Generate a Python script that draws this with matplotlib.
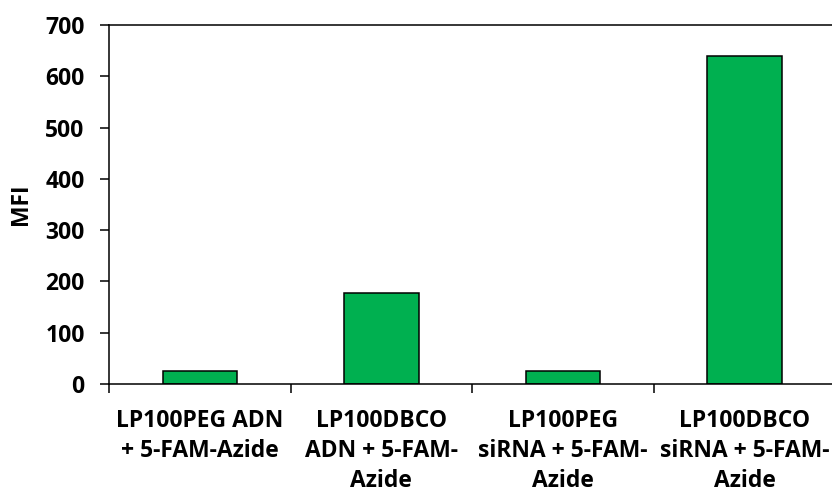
import matplotlib
matplotlib.use("Agg")
from matplotlib import pyplot as plt

# MFI per sample
samples = ["LP100PEG ADN\n+ 5-FAM-Azide",
           "LP100DBCO\nADN + 5-FAM-\nAzide",
           "LP100PEG\nsiRNA + 5-FAM-\nAzide",
           "LP100DBCO\nsiRNA + 5-FAM-\nAzide"]
mfi = [26, 177, 25, 640]
yticks = [0, 100, 200, 300, 400, 500, 600, 700]

plt.rcParams['font.family'] = ['Open Sans', 'DejaVu Sans']
plt.rcParams['font.weight'] = 'bold'
FS = 16.5

fig = plt.figure(figsize=(8.32, 4.92), dpi=100)
ax = fig.add_axes([0.131, 0.2195, 0.873, 0.7295])

pos = list(range(len(samples)))
ax.bar(pos, mfi, width=0.41, color="#00B050", edgecolor="black", linewidth=1.1)

ax.set_xlim(-0.5, 3.5)
ax.set_ylim(0, 700)
ax.set_yticks(yticks)
ax.set_xticks([p - 0.5 for p in pos] + [3.5], minor=False)
ax.set_xticklabels([""] * 5)
ax.set_xticks(pos, minor=True)
ax.set_xticklabels(samples, minor=True, fontsize=FS, fontweight="bold",
                   linespacing=1.32)
ax.tick_params(axis="x", which="minor", length=0, pad=18)
ax.tick_params(axis="x", which="major", length=6.5, width=1.1, direction="out")
ax.tick_params(axis="y", length=6.5, width=1.1, direction="out", pad=11,
               labelsize=FS)
for t in ax.get_yticklabels():
    t.set_fontweight("bold")

for s in ["left", "top", "bottom", "right"]:
    ax.spines[s].set_linewidth(1.1)

ax.set_ylabel("MFI", fontsize=FS, fontweight="bold", labelpad=9)

fig.savefig("out.png", dpi=100)
